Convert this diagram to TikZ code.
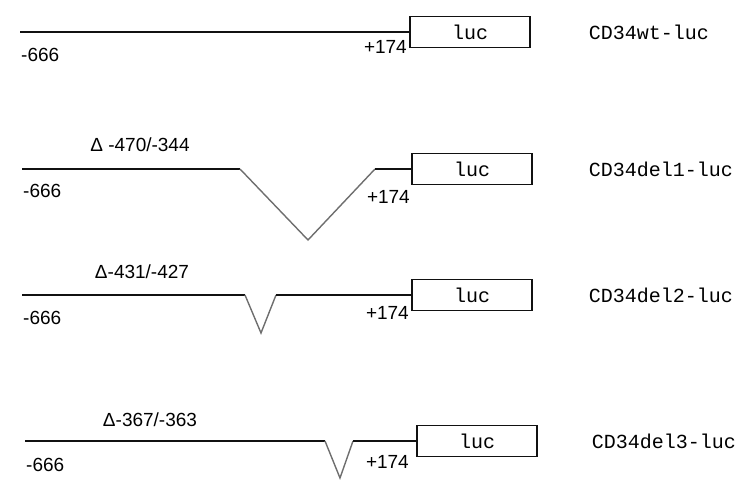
\documentclass[tikz,border=0pt]{standalone}
\usepackage{fontspec}
\setmainfont{Liberation Sans}
\setmonofont{Liberation Mono}
\usetikzlibrary{positioning}
\definecolor{Ink}{HTML}{111111}
\definecolor{Loop}{HTML}{6E6E6E}
\tikzset{
  reporter/.style={
    draw=Ink, line width=1.4pt, minimum width=120pt, minimum height=31pt,
    inner sep=0pt, font=\ttfamily\fontsize{20}{22}\selectfont
  },
  construct/.style={anchor=west, inner sep=0pt, font=\ttfamily\fontsize{20}{22}\selectfont},
  site/.style={inner sep=1pt, font=\fontsize{19}{20}\selectfont},
  promoter/.style={draw=Ink, line width=1.4pt},
  gap/.style={draw=Loop, line width=1.4pt}
}

\begin{document}
\begin{tikzpicture}[x=1pt,y=-1pt]
    \useasboundingbox (0,0) rectangle (741,486);
    % wild type
    \node[reporter] (luc1) at (470,32) {luc};
    \node[construct,right=58pt of luc1] (name1) {CD34wt-luc};
    \coordinate (s1) at (20,32);
    \draw[promoter] (s1)--(luc1.west);
    \node[site,anchor=west] (p1) at (20,55) {-666};
    \node[site,anchor=east] (q1) at (408,47) {+174};
    % del1
    \node[reporter] (luc2) at (472,169) {luc};
    \node[construct,right=56pt of luc2] (name2) {CD34del1-luc};
    \coordinate (s2) at (22,169);
    \coordinate (a2) at (240,169);
    \coordinate (v2) at (308,240);
    \coordinate (b2) at (375,169);
    \draw[promoter] (s2)--(a2);
    \draw[gap] (a2)--(v2)--(b2);
    \draw[promoter] (b2)--(luc2.west);
    \node[site] (d2) at (140,145) {Δ -470/-344};
    \node[site,anchor=west] (p2) at (22,191) {-666};
    \node[site,anchor=east] (q2) at (411,197) {+174};
    % del2
    \node[reporter] (luc3) at (472,295) {luc};
    \node[construct,right=56pt of luc3] (name3) {CD34del2-luc};
    \coordinate (s3) at (22,295);
    \coordinate (a3) at (245,295);
    \coordinate (v3) at (261,333);
    \coordinate (b3) at (276,295);
    \draw[promoter] (s3)--(a3);
    \draw[gap] (a3)--(v3)--(b3);
    \draw[promoter] (b3)--(luc3.west);
    \node[site] (d3) at (142,272) {Δ-431/-427};
    \node[site,anchor=west] (p3) at (22,318) {-666};
    \node[site,anchor=east] (q3) at (410,313) {+174};
    % del3
    \node[reporter] (luc4) at (477,441) {luc};
    \node[construct,right=54pt of luc4] (name4) {CD34del3-luc};
    \coordinate (s4) at (25,441);
    \coordinate (a4) at (325,441);
    \coordinate (v4) at (340,478);
    \coordinate (b4) at (353,441);
    \draw[promoter] (s4)--(a4);
    \draw[gap] (a4)--(v4)--(b4);
    \draw[promoter] (b4)--(luc4.west);
    \node[site] (d4) at (150,420) {Δ-367/-363};
    \node[site,anchor=west] (p4) at (25,465) {-666};
    \node[site,anchor=east] (q4) at (410,462) {+174};
  \end{tikzpicture}
\end{document}
